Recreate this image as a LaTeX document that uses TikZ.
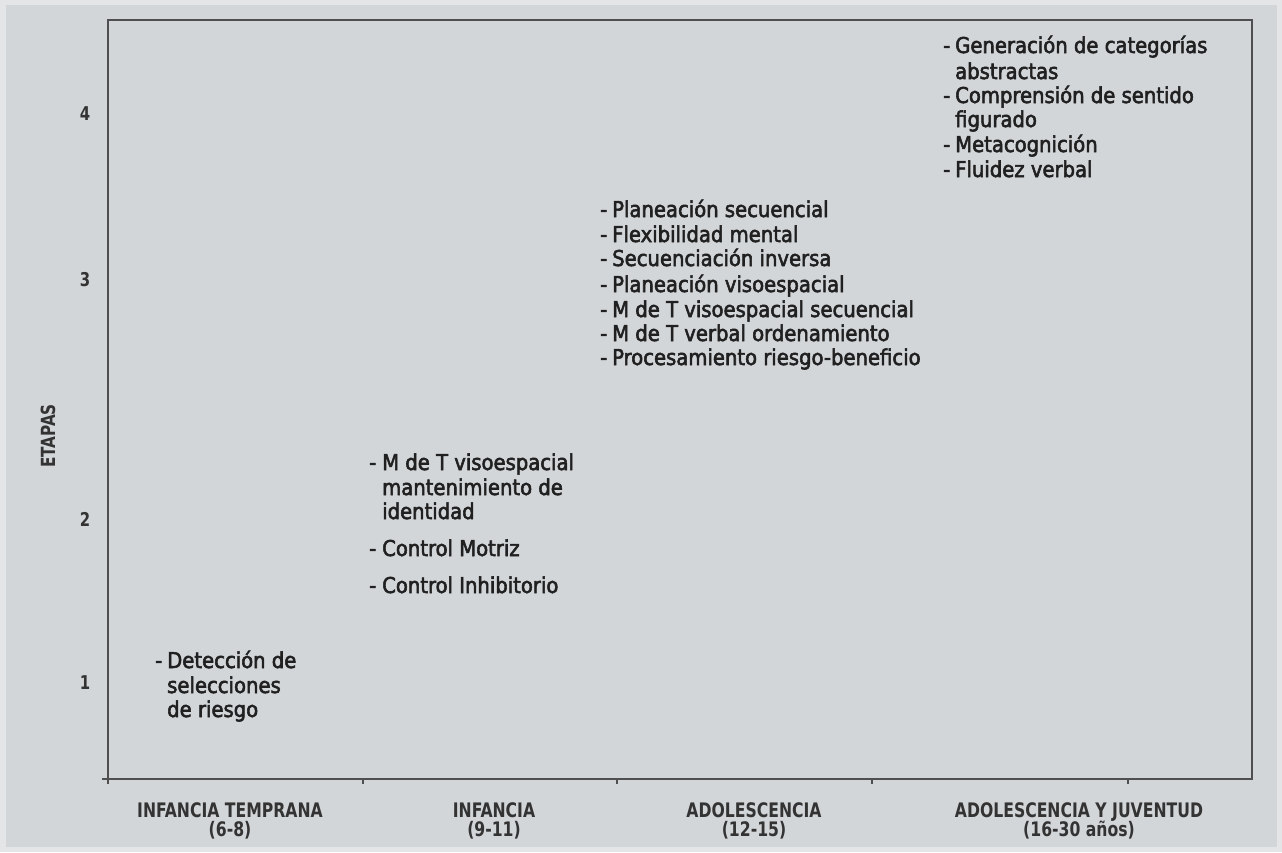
\documentclass[tikz,border=0pt]{standalone}
\usepackage{fontspec}
\setmainfont{DejaVu Sans Condensed}
\newfontfamily\itemfont[FakeBold=2.5]{DejaVu Sans Condensed}
\newfontfamily\labfont[FakeStretch=0.87]{DejaVu Sans Condensed}
\definecolor{outerbg}{HTML}{E4E5E7}
\definecolor{panelbg}{HTML}{D3D6D9}
\definecolor{txt}{HTML}{202020}
\definecolor{labcol}{HTML}{333333}
\definecolor{axiscol}{HTML}{4F4F4F}
\begin{document}
\begin{tikzpicture}[x=1pt,y=-1pt,
  itemtxt/.style={anchor=base west,inner sep=0pt,text=txt,font=\itemfont\fontsize{21.8}{24.5}\selectfont},
  dashtxt/.style={anchor=base west,inner sep=0pt,text=txt,font=\itemfont\fontsize{21.8}{24.5}\selectfont},
  xlab/.style={anchor=base,inner sep=0pt,text=labcol,font=\labfont\bfseries\fontsize{20}{20}\selectfont},
  ylab/.style={anchor=center,inner sep=0pt,text=labcol,font=\labfont\bfseries\fontsize{19}{19}\selectfont},
  axisline/.style={draw=axiscol,line width=1.8pt},
  tickline/.style={draw=axiscol,line width=1.5pt}]
\useasboundingbox (0,0) rectangle (1282,852);
\fill[outerbg] (0,0) rectangle (1282,852);
\fill[panelbg] (6,5) rectangle (1277,847);
% frame
\coordinate (tl) at (108,20);
\coordinate (br) at (1252,779);
\draw[axisline] (tl) rectangle (br);
% corner extensions and ticks
\coordinate (c0) at (108,779);
\coordinate (c0l) at (102,779);
\coordinate (c0d) at (108,784);
\draw[tickline] (c0l) -- (c0);
\draw[tickline] (c0) -- (c0d);
\foreach \tx [count=\i] in {363,617,872,1128}{
  \coordinate (ta\i) at (\tx,779);
  \coordinate (tb\i) at (\tx,784);
  \draw[tickline] (ta\i) -- (tb\i);
}
% y labels
\node[ylab] (y4) at (85,114) {4};
\node[ylab] (y3) at (85,280) {3};
\node[ylab] (y2) at (85,519) {2};
\node[ylab] (y1) at (85,683) {1};
\node[ylab,rotate=90,font=\labfont\bfseries\fontsize{19.5}{19.5}\selectfont] (etapas) at (48,436) {ETAPAS};
% x labels
\node[xlab] (x1a) at (230,817) {INFANCIA TEMPRANA};
\node[xlab] (x1b) at (230,836) {(6-8)};
\node[xlab] (x2a) at (494,817) {INFANCIA};
\node[xlab] (x2b) at (494,836) {(9-11)};
\node[xlab] (x3a) at (754,817) {ADOLESCENCIA};
\node[xlab] (x3b) at (754,836) {(12-15)};
\node[xlab] (x4a) at (1079,817) {ADOLESCENCIA Y JUVENTUD};
\node[xlab] (x4b) at (1079,836) {(16-30 años)};
% stage 1
\node[dashtxt] (d1) at (155,668) {-};
\node[itemtxt] (a1) at (167,668) {Detección de};
\node[itemtxt] (a2) at (167,693) {selecciones};
\node[itemtxt] (a3) at (167,717) {de riesgo};
% stage 2
\node[dashtxt] (d2a) at (369,470) {-};
\node[itemtxt] (b1) at (382,470) {M de T visoespacial};
\node[itemtxt] (b2) at (382,495) {mantenimiento de};
\node[itemtxt] (b3) at (382,519) {identidad};
\node[dashtxt] (d2b) at (369,556) {-};
\node[itemtxt] (b4) at (382,556) {Control Motriz};
\node[dashtxt] (d2c) at (369,593) {-};
\node[itemtxt] (b5) at (382,593) {Control Inhibitorio};
% stage 3
\foreach \yy/\tt [count=\i] in {217/Planeación secuencial,242/Flexibilidad mental,266/Secuenciación inversa,292/Planeación visoespacial,317/M de T visoespacial secuencial,341/M de T verbal ordenamiento,365/Procesamiento riesgo-beneficio}{
  \node[dashtxt] (d3\i) at (600,\yy) {-};
  \node[itemtxt] (c\i) at (612,\yy) {\tt};
}
% stage 4
\node[dashtxt] (d4a) at (943,53) {-};
\node[itemtxt] (e1) at (955,53) {Generación de categorías};
\node[itemtxt] (e2) at (955,79) {abstractas};
\node[dashtxt] (d4b) at (943,103) {-};
\node[itemtxt] (e3) at (955,103) {Comprensión de sentido};
\node[itemtxt] (e4) at (955,127) {figurado};
\node[dashtxt] (d4c) at (943,152) {-};
\node[itemtxt] (e5) at (955,152) {Metacognición};
\node[dashtxt] (d4d) at (943,177) {-};
\node[itemtxt] (e6) at (955,177) {Fluidez verbal};
\end{tikzpicture}
\end{document}
